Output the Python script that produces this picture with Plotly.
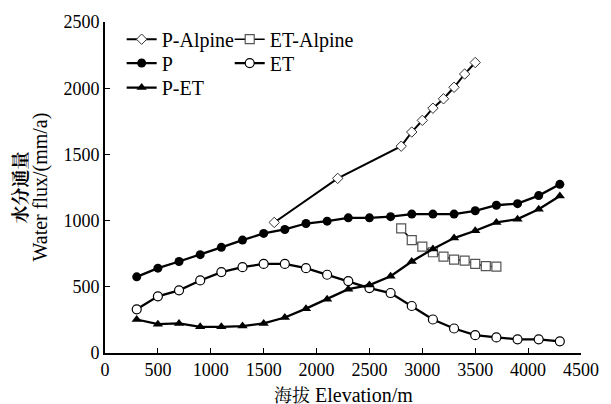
import plotly.graph_objects as go

elev = [300, 500, 700, 900, 1100, 1300, 1500, 1700, 1900, 2100, 2300,
        2500, 2700, 2900, 3100, 3300, 3500, 3700, 3900, 4100, 4300]
p_vals = [575, 641, 691, 743, 798, 853, 903, 933, 978, 996, 1021,
          1021, 1030, 1049, 1049, 1049, 1074, 1116, 1128, 1189, 1274]
et_vals = [330, 428, 473, 548, 611, 648, 673, 673, 641, 591, 543,
           490, 453, 355, 253, 185, 135, 118, 103, 103, 88]
pet_vals = [253, 218, 223, 198, 198, 203, 223, 268, 335, 406, 482,
            513, 580, 691, 786, 868, 923, 986, 1011, 1086, 1186]

alp_p_elev = [1600, 2200, 2800, 2900, 3000, 3100, 3200, 3300, 3400, 3500]
alp_p_vals = [986, 1319, 1562, 1669, 1757, 1849, 1920, 2007, 2107, 2194]

alp_et_elev = [2800, 2900, 3000, 3100, 3200, 3300, 3400, 3500, 3600, 3700]
alp_et_vals = [941, 853, 803, 761, 728, 706, 698, 673, 656, 653]

x_ticks = [0, 500, 1000, 1500, 2000, 2500, 3000, 3500, 4000, 4500]
y_ticks = [0, 500, 1000, 1500, 2000, 2500]

SERIF = "Liberation Serif"
CJK = "Noto Serif CJK SC, Noto Sans CJK SC"

fig = go.Figure()
fig.add_trace(go.Scatter(
    x=alp_p_elev, y=alp_p_vals, name="P-Alpine", mode="lines+markers",
    line=dict(color="black", width=2),
    marker=dict(symbol="diamond", size=8, color="white",
                line=dict(color="#333", width=1)),
    legend="legend"))
fig.add_trace(go.Scatter(
    x=alp_et_elev, y=alp_et_vals, name="ET-Alpine", mode="lines+markers",
    line=dict(color="black", width=1.5),
    marker=dict(symbol="square", size=9, color="white",
                line=dict(color="#555", width=1.2)),
    legend="legend4"))
fig.add_trace(go.Scatter(
    x=elev, y=p_vals, name="P", mode="lines+markers",
    line=dict(color="black", width=2.3),
    marker=dict(symbol="circle", size=9, color="black"),
    legend="legend2"))
fig.add_trace(go.Scatter(
    x=elev, y=et_vals, name="ET", mode="lines+markers",
    line=dict(color="black", width=2.3),
    marker=dict(symbol="circle", size=9, color="white",
                line=dict(color="black", width=1.2)),
    legend="legend5"))
fig.add_trace(go.Scatter(
    x=elev, y=pet_vals, name="P-ET", mode="lines+markers",
    line=dict(color="black", width=2.3),
    marker=dict(symbol="triangle-up", size=9, color="black"),
    legend="legend3"))

axis_common = dict(
    showline=True, linecolor="black", linewidth=1.6, mirror=False,
    ticks="inside", ticklen=5, tickwidth=1.2, tickcolor="black",
    showgrid=False, zeroline=False, ticklabeloverflow="allow",
    tickfont=dict(family=SERIF, size=18, color="black"),
)

def leg(xc, yc):
    return dict(x=xc, y=yc, xanchor="left", yanchor="middle",
                bgcolor="rgba(0,0,0,0)", borderwidth=0,
                font=dict(family=SERIF, size=20, color="black"),
                itemwidth=30)

fig.update_layout(
    width=611, height=404,
    margin=dict(l=105, r=18, t=20, b=51),
    paper_bgcolor="white", plot_bgcolor="white",
    font=dict(family=SERIF, color="black"),
    xaxis=dict(range=[0, 4500], tickvals=x_ticks,
               ticktext=[str(v) for v in x_ticks], **axis_common),
    yaxis=dict(range=[0, 2500], tickvals=y_ticks,
               ticktext=[str(v) for v in y_ticks], **axis_common),
    legend=leg(0.035, 0.948),
    legend2=leg(0.035, 0.876),
    legend3=leg(0.035, 0.802),
    legend4=leg(0.262, 0.948),
    legend5=leg(0.262, 0.876),
    showlegend=True,
    annotations=[
        dict(text=f"<span style='font-family:{CJK};font-size:18px'>海拔</span> Elevation/m",
             x=0.5, y=0, xref="paper", yref="paper", xanchor="center",
             yanchor="middle", yshift=-41, showarrow=False,
             font=dict(family=SERIF, size=20, color="black")),
        dict(text="<b>水分通量</b>",
             x=0, y=0.5, xref="paper", yref="paper", xanchor="center",
             yanchor="middle", xshift=-87, textangle=-90, showarrow=False,
             font=dict(family=CJK, size=18, color="black")),
        dict(text="Water flux/(mm/a)",
             x=0, y=0.5, xref="paper", yref="paper", xanchor="center",
             yanchor="middle", xshift=-65, textangle=-90, showarrow=False,
             font=dict(family=SERIF, size=20, color="black")),
    ],
)

fig.write_html("out.html", config={"displayModeBar": False},
               post_script="document.body.style.margin='0';document.body.style.overflow='hidden';")
